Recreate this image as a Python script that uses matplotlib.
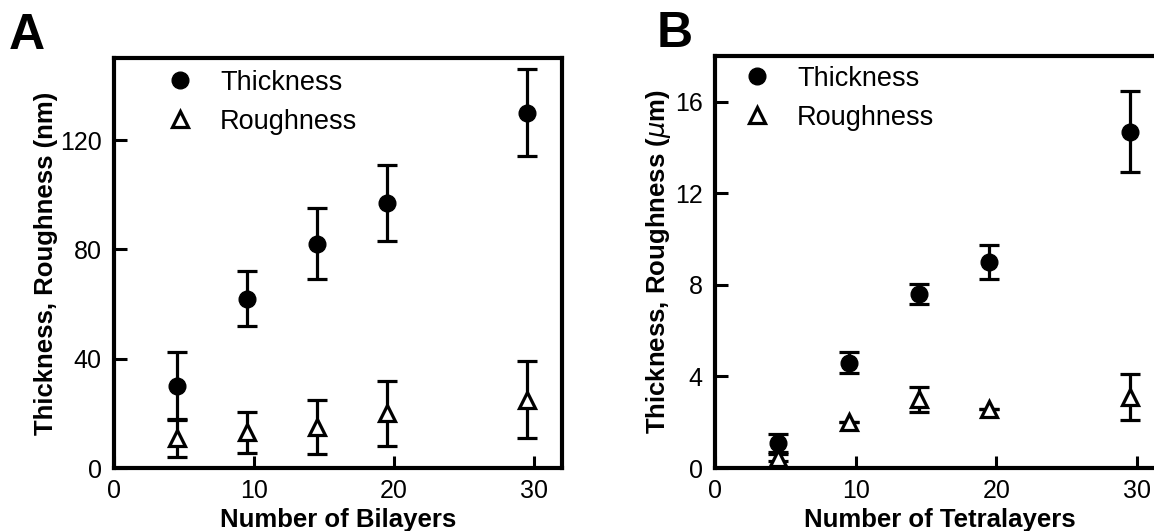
import matplotlib
matplotlib.use("Agg")
import matplotlib.pyplot as plt

plt.rcParams['font.family'] = ['Liberation Sans', 'DejaVu Sans']

# Panel A: bilayers (nm)
layers = [4.5, 9.5, 14.5, 19.5, 29.5]
thick_a = [30, 62, 82, 97, 130]
thick_a_err = [12.5, 10, 13, 14, 16]
rough_a = [11, 13, 15, 20, 25]
rough_a_err = [7, 7.5, 10, 12, 14]

# Panel B: tetralayers (um)
thick_b = [1.1, 4.6, 7.6, 9.0, 14.7]
thick_b_err = [0.4, 0.45, 0.45, 0.73, 1.75]
rough_b = [0.45, 2.0, 3.0, 2.6, 3.1]
rough_b_err = [0.15, 0.0, 0.55, 0.0, 1.0]

fig = plt.figure(figsize=(11.54, 5.31), dpi=100)
ax_a = fig.add_axes([0.0988, 0.1186, 0.3882, 0.7721])
ax_b = fig.add_axes([0.6196, 0.1186, 0.3900, 0.7759])


def draw_panel(ax, thick, thick_err, rough, rough_err, ymax, yticks,
               xlabel, ylabel, ylab_x, leg_x, leg_y):
    eb = dict(fmt='none', ecolor='black', elinewidth=2.3, capsize=7,
              capthick=2.3, zorder=2)
    ax.errorbar(layers, thick, yerr=thick_err, **eb)
    ax.errorbar(layers, rough, yerr=rough_err, **eb)
    h1, = ax.plot(layers, thick, 'o', color='black', markersize=12,
                  linestyle='none', zorder=3, label='Thickness')
    h2, = ax.plot(layers, rough, '^', markerfacecolor='white',
                  markeredgecolor='black', markeredgewidth=2.3,
                  markersize=12, linestyle='none', zorder=4,
                  label='Roughness')
    ax.set_xlim(0, 32)
    ax.set_ylim(0, ymax)
    ax.set_xticks([0, 10, 20, 30])
    ax.set_yticks(yticks)
    ax.tick_params(direction='in', length=9, width=2.2, labelsize=18,
                   top=False, right=False)
    ax.tick_params(axis='y', pad=9)
    ax.tick_params(axis='x', pad=8)
    for s in ax.spines.values():
        s.set_linewidth(3)
    ax.set_xlabel(xlabel, fontsize=18.5, fontweight='bold')
    ax.set_ylabel(ylabel, fontsize=18.5, fontweight='bold')
    ax.xaxis.set_label_coords(0.5, -0.097)
    ax.yaxis.set_label_coords(ylab_x, 0.5)
    ax.legend(handles=[h1, h2], loc='upper left', bbox_to_anchor=(leg_x, leg_y),
              frameon=False, fontsize=19.5, handlelength=1.0, handletextpad=0.98,
              borderpad=0, borderaxespad=0, labelspacing=0.48, numpoints=1)


draw_panel(ax_a, thick_a, thick_a_err, rough_a, rough_a_err, 150,
           [0, 40, 80, 120], 'Number of Bilayers',
           'Thickness, Roughness (nm)', -0.125, 0.117, 0.972)
draw_panel(ax_b, thick_b, thick_b_err, rough_b, rough_b_err, 18,
           [0, 4, 8, 12, 16], 'Number of Tetralayers',
           'Thickness, Roughness ($\\mu$m)', -0.093, 0.063, 0.976)

fig.text(0.008, 0.908, 'A', fontsize=36, fontweight='bold')
fig.text(0.569, 0.912, 'B', fontsize=36, fontweight='bold')

fig.savefig('out.png', dpi=100)
